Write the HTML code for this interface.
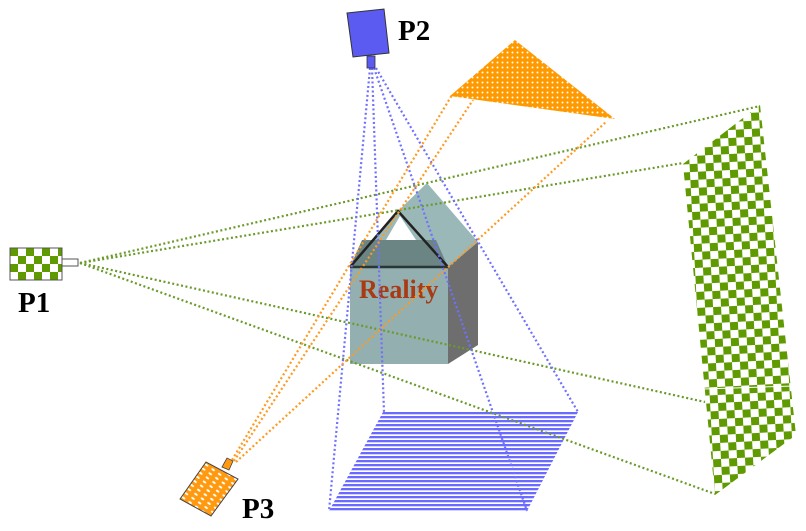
<!DOCTYPE html>
<html><head><meta charset="utf-8"><style>
html,body{margin:0;padding:0;background:#fff;}
svg{display:block}
text{font-family:"Liberation Serif",serif;font-weight:bold;}
</style></head><body>
<svg width="806" height="531" viewBox="0 0 806 531" xmlns="http://www.w3.org/2000/svg">
<defs>
<pattern id="chkR" width="16" height="16" patternUnits="userSpaceOnUse" patternTransform="rotate(-3)">
<rect width="16" height="16" fill="#fff"/>
<rect width="8" height="8" fill="#5f9a00"/><rect x="8" y="8" width="8" height="8" fill="#5f9a00"/>
</pattern>
<pattern id="chk1" width="16" height="16" patternUnits="userSpaceOnUse" x="10" y="248">
<rect width="16" height="16" fill="#fff"/>
<rect width="8" height="8" fill="#5f9a00"/><rect x="8" y="8" width="8" height="8" fill="#5f9a00"/>
</pattern>
<pattern id="dotsO" width="5" height="5" patternUnits="userSpaceOnUse">
<rect width="5" height="5" fill="#ff9900"/>
<circle cx="2.5" cy="2.5" r="1" fill="#fff"/>
</pattern>
<pattern id="dotsP3" width="8" height="5" patternUnits="userSpaceOnUse" patternTransform="rotate(35)">
<rect width="8" height="5" fill="#ff9a10"/>
<ellipse cx="4" cy="2.5" rx="2" ry="1" fill="#fff"/>
</pattern>
<pattern id="stripes" width="4" height="4" patternUnits="userSpaceOnUse" y="412">
<rect width="4" height="4" fill="#fff"/>
<rect width="4" height="2.3" fill="#6a6aff"/>
</pattern>
</defs>

<polygon points="515,40 450,96 615,119" fill="url(#dotsO)"/>
<polygon points="760,105 683,164 715,495 796,435" fill="url(#chkR)"/>
<line x1="704" y1="389" x2="793" y2="386" stroke="#fff" stroke-width="1"/>
<polygon points="383,412 578,412 527,511 329,511" fill="url(#stripes)"/>

<!-- House -->
<polygon points="398,211 427,183 478,242 448,267" fill="#9bb8b8"/>
<polygon points="448,267 478,242 478,345 448,364" fill="#6e6e6e"/>
<polygon points="350,267 448,267 448,364 350,364" fill="#93afb0"/>
<polygon points="350,267 398,211 448,267" fill="#9bb8b8"/>
<polygon points="362,240 436,240 448,267 350,267" fill="#6b8584"/>
<polygon points="386,240 400,216 416,240" fill="#fff"/>
<polyline points="350,267 398,211 448,267" fill="none" stroke="#222" stroke-width="2.5"/>
<line x1="350" y1="267" x2="448" y2="267" stroke="#2a3535" stroke-width="2.5"/>
<text x="359" y="298" font-size="26" fill="#a83a14">Reality</text>

<g fill="none" stroke-width="2.2" stroke-dasharray="2 2.5">
<g stroke="#6a9a2a">
<line x1="80" y1="263" x2="760" y2="106"/>
<line x1="80" y1="263" x2="683" y2="163"/>
<line x1="80" y1="263" x2="705" y2="402"/>
<line x1="80" y1="263" x2="715" y2="494"/>
</g>
<g stroke="#7070ff">
<line x1="370" y1="68" x2="329" y2="511"/>
<line x1="372" y1="68" x2="384" y2="412"/>
<line x1="374" y1="68" x2="527" y2="511"/>
<line x1="376" y1="68" x2="578" y2="412"/>
</g>
<g stroke="#ff9a20">
<line x1="232" y1="460" x2="452" y2="95"/>
<line x1="234" y1="461" x2="473" y2="100"/>
<line x1="236" y1="462" x2="607" y2="121"/>
</g>
</g>

<polygon points="347,13 384,9 389,53 353,57" fill="#5b5bf2" stroke="#333" stroke-width="1"/>
<rect x="367" y="56" width="8" height="12" fill="#5b5bf2" stroke="#333" stroke-width="0.8"/>
<text x="398" y="40" font-size="29" fill="#000">P2</text>

<rect x="10" y="248" width="52" height="32" fill="url(#chk1)" stroke="#555" stroke-width="1"/>
<rect x="62" y="259" width="16" height="7" fill="#fff" stroke="#555" stroke-width="1"/>
<text x="18" y="312" font-size="29" fill="#000">P1</text>

<polygon points="180,499 206,462 238,479 211,516" fill="url(#dotsP3)" stroke="#444" stroke-width="1"/>
<polygon points="222,467 227,458 233,461 229,470" fill="#ff9a10" stroke="#444" stroke-width="0.8"/>
<text x="242" y="518" font-size="29" fill="#000">P3</text>
</svg>
</body></html>
